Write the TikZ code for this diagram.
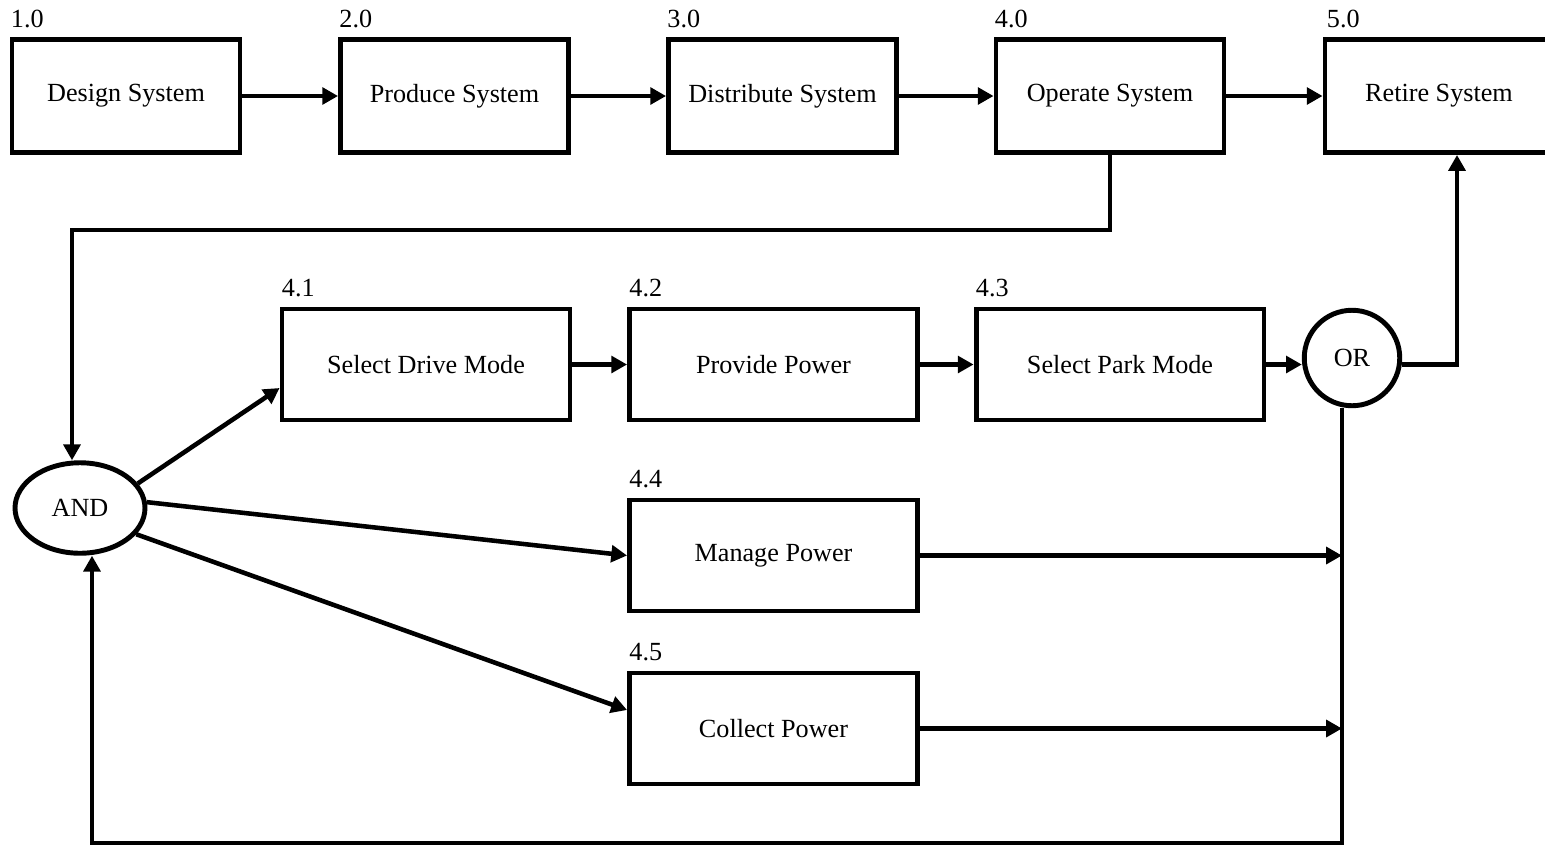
\documentclass[tikz,border=0pt]{standalone}
\usepackage{fontspec}
\setmainfont{Liberation Serif}
\usetikzlibrary{arrows.meta,shapes.geometric,calc}
\tikzset{
  txt/.style={font=\fontsize{14.9}{18}\selectfont},
  proc/.style={draw, line width=2.8pt, minimum width=4.56cm, minimum height=2.26cm, inner sep=0pt, txt},
  sub/.style={proc, minimum width=5.76cm, minimum height=2.22cm},
  num/.style={anchor=base west, inner sep=0pt, txt},
  gate/.style={draw, line width=2.8pt, inner sep=0pt, txt},
  flow/.style={line width=2.6pt, -{Triangle[length=9pt,width=9.5pt]}},
}
\begin{document}
\begin{tikzpicture}[x=0.02cm, y=-0.02cm]
\useasboundingbox (0,0) rectangle (1545,846);

% life-cycle stages
\node[proc] (d1) at (126,96)    {Design System};
\node[proc] (d2) at (454.5,96)  {Produce System};
\node[proc] (d3) at (782.5,96)  {Distribute System};
\node[proc] (d4) at (1110,96)   {Operate System};
\node[proc] (d5) at (1439,96)   {Retire System};

\node[num] (n1) at ($(d1.north west)+(1,-10)$) {1.0};
\node[num] (n2) at ($(d2.north west)+(1,-10)$) {2.0};
\node[num] (n3) at ($(d3.north west)+(1,-10)$) {3.0};
\node[num] (n4) at ($(d4.north west)+(1,-10)$) {4.0};
\node[num] (n5) at ($(d5.north west)+(4,-10)$) {5.0};

% operating functions
\node[sub] (s1) at (426,364.5)   {Select Drive Mode};
\node[sub] (s2) at (773.5,364.5) {Provide Power};
\node[sub] (s3) at (1120,364.5)  {Select Park Mode};
\node[sub] (m4) at (773.5,555.5) {Manage Power};
\node[sub] (c5) at (773.5,728.5) {Collect Power};

\node[num] (n41) at ($(s1.north west)+(2,-10)$) {4.1};
\node[num] (n42) at ($(s2.north west)+(2,-10)$) {4.2};
\node[num] (n43) at ($(s3.north west)+(2,-10)$) {4.3};
\node[num] (n44) at ($(m4.north west)+(2,-10)$) {4.4};
\node[num] (n45) at ($(c5.north west)+(2,-10)$) {4.5};

% logic gates
\node[gate, circle, minimum size=1.91cm] (or) at (1352,358) {OR};
\node[gate, ellipse, minimum width=2.6cm, minimum height=1.81cm] (and) at (80,508) {AND};

% routing points
\coordinate (j1) at (72,230);
\coordinate (j2) at (1342,843);
\coordinate (j3) at (92,843);
\coordinate (rx) at (1457,0);

% top chain
\draw[flow] (d1) -- (d2);
\draw[flow] (d2) -- (d3);
\draw[flow] (d3) -- (d4);
\draw[flow] (d4) -- (d5);

% operate -> AND
\draw[flow] (d4.south) |- (j1) -- (j1 |- and.north);

% AND fan-out
\draw[flow] (and.23) -- ($(s1.west)+(0,23.5)$);
\draw[flow] (and.5) -- (m4.west);
\draw[flow] (and.-25) -- ($(c5.west)+(0,-18.5)$);

% second row
\draw[flow] (s1) -- (s2);
\draw[flow] (s2) -- (s3);
\draw[flow] (s3.east) -- (s3.east -| or.west);

% OR -> retire
\draw[flow] (s3.east -| or.east) -| (rx |- d5.south);

% feedback loop
\draw[flow] (j2 |- or.south) -- (j2) -- (j3) -- (j3 |- and.south);

\draw[flow] (m4) -- (m4 -| j2);
\draw[flow] (c5) -- (c5 -| j2);
\end{tikzpicture}
\end{document}
